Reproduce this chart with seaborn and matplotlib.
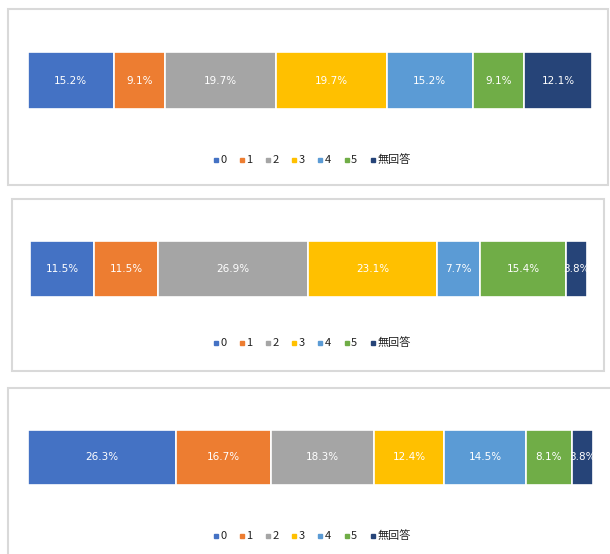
import numpy as np
import seaborn as sns
import matplotlib
matplotlib.use('Agg')
import matplotlib.pyplot as plt
from matplotlib.lines import Line2D
from matplotlib.patches import Rectangle

# data
categories = ['0', '1', '2', '3', '4', '5', '無回答']
vals_top = [15.2, 9.1, 19.7, 19.7, 15.2, 9.1, 12.1]
vals_mid = [11.5, 11.5, 26.9, 23.1, 7.7, 15.4, 3.8]
vals_bot = [26.3, 16.7, 18.3, 12.4, 14.5, 8.1, 3.8]

colors = ['#4472C4', '#ED7D31', '#A5A5A5', '#FFC000', '#5B9BD5', '#70AD47', '#264478']

sns.set_theme(style='white')
plt.rcParams['font.family'] = ['Noto Sans CJK JP', 'DejaVu Sans']

W, H = 610, 554
fig = plt.figure(figsize=(W / 100, H / 100), dpi=100)

# (values, bar box px [x0, x1, y0, y1], panel box px [x0, x1, y0, y1], legend y px)
panels = [
    (vals_top, (28, 592, 52, 109), (8, 608, 9, 185), 160),
    (vals_mid, (30, 587, 241, 297), (12, 604, 199, 371), 343),
    (vals_bot, (28, 593, 430, 485), (8, 614, 388, 560), 536),
]

def px_rect(x0, x1, y0, y1):
    return [x0 / W, 1 - y1 / H, (x1 - x0) / W, (y1 - y0) / H]

for vals, bar_box, panel_box, leg_y in panels:
    # panel border
    l, b, w, h = px_rect(*panel_box)
    fig.patches.append(Rectangle((l, b), w, h, transform=fig.transFigure,
                                 facecolor='white', edgecolor='#d9d9d9',
                                 linewidth=1.5, zorder=-1))

    ax = fig.add_axes(px_rect(*bar_box))
    ax.set_zorder(2)
    left = np.concatenate([[0], np.cumsum(vals)[:-1]])
    ax.barh([0] * len(vals), vals, left=left, height=1.0, color=colors,
            edgecolor='white', linewidth=1.2)
    for v, lft in zip(vals, left):
        ax.text(lft + v / 2, 0, f'{v:.1f}%', ha='center', va='center',
                color='white', fontsize=7.5, family=['DejaVu Sans'])
    ax.set_xlim(0, sum(vals))
    ax.set_ylim(-0.5, 0.5)
    ax.axis('off')

    handles = [Line2D([], [], marker='s', linestyle='none', color=c, markersize=3)
               for c in colors]
    fig.legend(handles, categories, loc='center', ncol=len(categories),
               bbox_to_anchor=(311 / W, 1 - leg_y / H), frameon=False,
               fontsize=8, handletextpad=0.0, columnspacing=1.0,
               handlelength=0.8, labelcolor='#222222')

fig.savefig('out.png', dpi=100)
